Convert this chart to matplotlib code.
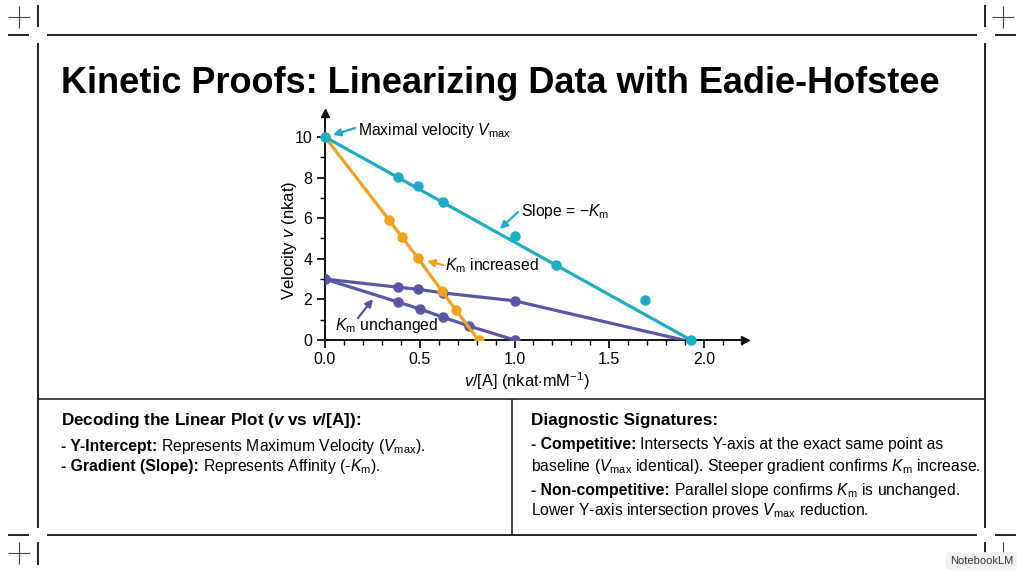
import numpy as np
import matplotlib
matplotlib.use("Agg")
import matplotlib.pyplot as plt

# data
base_x = [0.0, 0.385, 0.49, 0.62, 1.0, 1.22, 1.69, 1.93]
base_y = [10.0, 8.05, 7.58, 6.8, 5.12, 3.69, 1.97, 0.0]
comp_x = [0.0, 0.338, 0.406, 0.49, 0.617, 0.69, 0.81]
comp_y = [10.0, 5.91, 5.07, 4.04, 2.41, 1.48, 0.0]
nc1_x = [0.0, 0.385, 0.49, 0.62, 1.0, 1.89]
nc1_y = [3.0, 2.6, 2.5, 2.32, 1.93, 0.0]
nc2_x = [0.0, 0.385, 0.5, 0.62, 0.76, 1.0]
nc2_y = [3.0, 1.87, 1.53, 1.13, 0.69, 0.0]

x_ticks = [0.0, 0.5, 1.0, 1.5, 2.0]
y_ticks = [0, 2, 4, 6, 8, 10]

TEAL = '#1badc6'
ORANGE = '#f5a11c'
PURPLE = '#5956a6'

FONT = 'Liberation Sans'
plt.rcParams['font.family'] = [FONT, 'DejaVu Sans']
plt.rcParams['mathtext.fontset'] = 'custom'
plt.rcParams['mathtext.rm'] = FONT
plt.rcParams['mathtext.it'] = FONT + ':italic'
plt.rcParams['mathtext.bf'] = FONT + ':bold'
plt.rcParams['mathtext.bfit'] = FONT + ':italic:bold'

fig = plt.figure(figsize=(10.24, 5.72), dpi=100)

# overlay in pixel coords for frame + text boxes
ov = fig.add_axes([0, 0, 1, 1])
ov.set_xlim(0, 1024)
ov.set_ylim(572, 0)
ov.axis('off')

def seg(x0, y0, x1, y1, lw=1.4, c='#222222'):
	ov.plot([x0, x1], [y0, y1], color=c, lw=lw, solid_capstyle='butt')

# frame
for yy in (35, 535):
	seg(8, yy, 29, yy)
	seg(47, yy, 977, yy)
	seg(995, yy, 1016, yy)
for xx in (38, 985):
	seg(xx, 5, xx, 27)
	seg(xx, 43, xx, 528)
	seg(xx, 542, xx, 565)
for cx, cy in ((19, 17), (1003, 17), (19, 553), (1003, 553)):
	seg(cx - 11, cy, cx + 11, cy, lw=0.8, c='#444444')
	seg(cx, cy - 11, cx, cy + 11, lw=0.8, c='#444444')
seg(38, 399, 985, 399, lw=1.2)
seg(512, 399, 512, 535, lw=1.2)

ov.text(61, 93, 'Kinetic Proofs: Linearizing Data with Eadie-Hofstee',
		fontsize=26, weight='bold', va='baseline', ha='left')

# text boxes
fig.canvas.draw()
rend = fig.canvas.get_renderer()

def runs(x, y, parts, size):
	for txt, wt in parts:
		t = ov.text(x, y, txt, fontsize=size, weight=wt, va='center', ha='left')
		x += t.get_window_extent(rend).width + size * 0.35

BS = 11.3
ov.text(61, 421, r'Decoding the Linear Plot ($\mathbfit{v}$ vs $\mathbfit{v}$/[A]):',
		fontsize=12.3, weight='bold', va='center')
runs(61, 446, [('- Y-Intercept:', 'bold'),
			   (r'Represents Maximum Velocity ($V_{\mathrm{max}}$).', 'normal')], BS)
runs(61, 467, [('- Gradient (Slope):', 'bold'),
			   (r'Represents Affinity (-$K_{\mathrm{m}}$).', 'normal')], BS)

ov.text(531, 421, 'Diagnostic Signatures:', fontsize=12.3, weight='bold', va='center')
runs(531, 445, [('- Competitive:', 'bold'),
				('Intersects Y-axis at the exact same point as', 'normal')], BS)
runs(531, 466, [(r'baseline ($V_{\mathrm{max}}$ identical). Steeper gradient confirms $K_{\mathrm{m}}$ increase.', 'normal')], BS)
runs(531, 490, [('- Non-competitive:', 'bold'),
				(r'Parallel slope confirms $K_{\mathrm{m}}$ is unchanged.', 'normal')], BS)
runs(531, 511, [(r'Lower Y-axis intersection proves $V_{\mathrm{max}}$ reduction.', 'normal')], BS)

ov.text(1013, 561, 'NotebookLM', fontsize=8, ha='right', va='center', color='#333333',
		bbox=dict(boxstyle='round,pad=0.35', fc='#f2f2f2', ec='none'))

# chart
ax = fig.add_axes([325 / 1024, 1 - 340 / 572, 420 / 1024, 227 / 572])
ax.set_xlim(0, 2.216)
ax.set_ylim(0, 11.18)
ax.patch.set_alpha(0)
for s in ('top', 'right'):
	ax.spines[s].set_visible(False)
for s in ('left', 'bottom'):
	ax.spines[s].set_linewidth(1.4)
	ax.spines[s].set_color('#111111')
ax.plot(1, 0, '>', color='#111111', ms=6, transform=ax.transAxes, clip_on=False)
ax.plot(0, 1, '^', color='#111111', ms=6, transform=ax.transAxes, clip_on=False)

ax.set_xticks(x_ticks)
ax.set_xticklabels(['%.1f' % v for v in x_ticks])
ax.set_yticks(y_ticks)
ax.set_xticks(np.arange(0, 2.21, 0.1), minor=True)
ax.set_yticks(np.arange(0, 11, 1), minor=True)
ax.tick_params(which='major', length=6, width=1.2, labelsize=11.5, pad=3)
ax.tick_params(which='minor', length=3.5, width=1.0)

ax.plot(nc1_x, nc1_y, '-', color=PURPLE, lw=2.3, zorder=3)
ax.plot(nc1_x[:-1], nc1_y[:-1], 'o', color=PURPLE, ms=6.5, zorder=3)
ax.plot(nc2_x, nc2_y, '-o', color=PURPLE, lw=2.3, ms=6.5, zorder=3)
ax.plot(comp_x, comp_y, '-o', color=ORANGE, lw=2.3, ms=6.5, zorder=4)
ax.plot([base_x[0], base_x[-1]], [base_y[0], base_y[-1]], '-', color=TEAL, lw=2.3, zorder=5)
ax.plot(base_x, base_y, 'o', color=TEAL, ms=6.5, zorder=5, clip_on=False)

ax.set_ylabel(r'Velocity $v$ (nkat)', fontsize=12)
ax.yaxis.set_label_coords(-0.062, 0.44)
ax.set_xlabel(r'$v$/[A] (nkat$\cdot$mM$^{-1}$)', fontsize=11.8)
ax.xaxis.set_label_coords(0.48, -0.135)

AS = 11.3
arw = dict(arrowstyle='-|>', lw=1.6, mutation_scale=11, shrinkA=0, shrinkB=0)
notes = [
	(r'Maximal velocity $V_{\mathrm{max}}$', (0.174, 10.3), (0.158, 10.44), (0.042, 10.1), TEAL),
	(r'Slope = $-K_{\mathrm{m}}$', (1.035, 6.35), (1.018, 6.3), (0.923, 5.47), TEAL),
	(r'$K_{\mathrm{m}}$ increased', (0.633, 3.65), (0.623, 3.69), (0.538, 3.89), ORANGE),
	(r'$K_{\mathrm{m}}$ unchanged', (0.053, 0.69), (0.174, 1.08), (0.253, 2.02), PURPLE),
]
for txt, tpos, tail, head, col in notes:
	ax.text(tpos[0], tpos[1], txt, fontsize=AS, va='center', ha='left')
	ax.annotate('', xy=head, xytext=tail, arrowprops=dict(arw, color=col))

fig.savefig('out.png', dpi=100)
